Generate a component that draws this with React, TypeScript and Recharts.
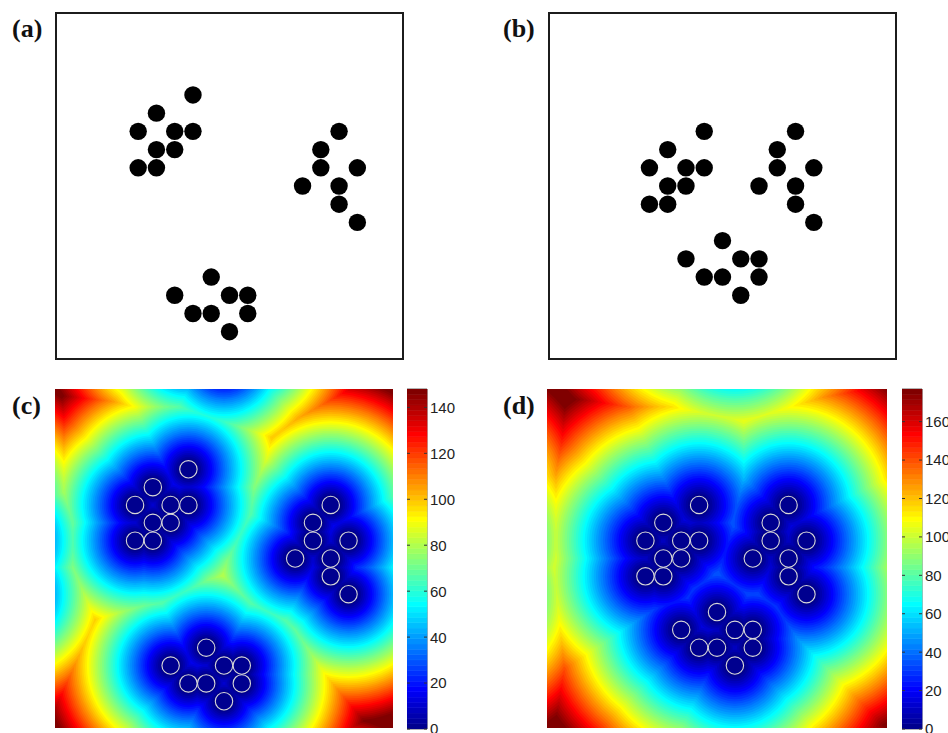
import React from "react";
import {
  Bar,
  BarChart,
  CartesianGrid,
  ReferenceArea,
  Scatter,
  ScatterChart,
  XAxis,
  YAxis,
  ZAxis,
} from "recharts";

// the field is a 19 x 19 grid, every dot sits on a cell centre (cell units, y from the top)
const GRID = 19;
const DOT = 0.5; // dot radius in cells
const CELL_VALUE = 22; // colour-bar units per cell

// (a) three clusters
const clusterA1 = [[7.5, 4.5], [5.5, 5.5], [4.5, 6.5], [6.5, 6.5], [7.5, 6.5], [5.5, 7.5], [6.5, 7.5], [4.5, 8.5], [5.5, 8.5]];
const clusterB1 = [[15.5, 6.5], [14.5, 7.5], [14.5, 8.5], [16.5, 8.5], [13.5, 9.5], [15.5, 9.5], [15.5, 10.5], [16.5, 11.5]];
const clusterC1 = [[8.5, 14.5], [6.5, 15.5], [9.5, 15.5], [10.5, 15.5], [7.5, 16.5], [8.5, 16.5], [10.5, 16.5], [9.5, 17.5]];

// (b) the same clusters pushed closer together
const clusterA2 = [[8.5, 6.5], [6.5, 7.5], [5.5, 8.5], [7.5, 8.5], [8.5, 8.5], [6.5, 9.5], [7.5, 9.5], [5.5, 10.5], [6.5, 10.5]];
const clusterB2 = [[13.5, 6.5], [12.5, 7.5], [12.5, 8.5], [14.5, 8.5], [11.5, 9.5], [13.5, 9.5], [13.5, 10.5], [14.5, 11.5]];
const clusterC2 = [[9.5, 12.5], [7.5, 13.5], [10.5, 13.5], [11.5, 13.5], [8.5, 14.5], [9.5, 14.5], [11.5, 14.5], [10.5, 15.5]];

// colour bar limits and ticks
const maxC = 148;
const maxD = 177;
const ticksC = [0, 20, 40, 60, 80, 100, 120, 140];
const ticksD = [0, 20, 40, 60, 80, 100, 120, 140, 160];

const pointsA = [...clusterA1, ...clusterB1, ...clusterC1];
const pointsB = [...clusterA2, ...clusterB2, ...clusterC2];

// matlab jet(64)
function jetMap(m: number): string[] {
  const n = Math.ceil(m / 4);
  const u: number[] = [];
  for (let i = 1; i <= n; i++) u.push(i / n);
  for (let i = 0; i < n - 1; i++) u.push(1);
  for (let i = n; i >= 1; i--) u.push(i / n);
  const off = Math.ceil(n / 2) - (m % 4 === 1 ? 1 : 0);
  const r = new Array(m).fill(0);
  const g = new Array(m).fill(0);
  const b = new Array(m).fill(0);
  u.forEach((v, j) => {
    const gi = off + j + 1;
    if (gi >= 1 && gi <= m) g[gi - 1] = v;
    if (gi + n >= 1 && gi + n <= m) r[gi + n - 1] = v;
    if (gi - n >= 1 && gi - n <= m) b[gi - n - 1] = v;
  });
  const h = (v: number) => Math.round(v * 255).toString(16).padStart(2, "0");
  return r.map((_, i) => "#" + h(r[i]) + h(g[i]) + h(b[i]));
}
const JET = jetMap(64);

// distance-to-nearest-dot map, periodic edges: one circle per colour level round
// every dot and its shifted copies, biggest first, so the nearest dot wins
function buildField(points: number[][], vmax: number) {
  const step = vmax / JET.length;
  const shifts = [-GRID, 0, GRID];
  const out: { x: number; y: number; r: number; color: string }[] = [];
  for (let k = JET.length - 1; k >= 0; k--) {
    const r = DOT + ((k + 1) * step) / CELL_VALUE;
    for (const [px, py] of points) {
      for (const sx of shifts) {
        for (const sy of shifts) {
          const x = px + sx;
          const y = py + sy;
          const dx = Math.max(-x, 0, x - GRID);
          const dy = Math.max(-y, 0, y - GRID);
          if (dx * dx + dy * dy >= r * r) continue;
          out.push({ x, y, r, color: JET[k] });
        }
      }
    }
  }
  return out;
}

const DOT_PX = 8.7;

function DotPanel({ points, left }: { points: number[][]; left: number }) {
  const data = points.map(([x, y]) => ({ x, y }));
  return (
    <div style={{ position: "absolute", left: left - 2, top: 11 }}>
      <ScatterChart width={351} height={350} margin={{ top: 2, right: 2, bottom: 2, left: 2 }}>
        <XAxis type="number" dataKey="x" domain={[0, GRID]} hide allowDataOverflow />
        <YAxis type="number" dataKey="y" domain={[0, GRID]} reversed hide allowDataOverflow />
        <ReferenceArea x1={0} x2={GRID} y1={0} y2={GRID} fill="none" stroke="#1c1c1c" strokeWidth={2} />
        <Scatter
          data={data}
          isAnimationActive={false}
          shape={(p: any) => <circle cx={p.cx} cy={p.cy} r={DOT_PX} fill="#000" />}
        />
      </ScatterChart>
    </div>
  );
}

function HeatPanel({ points, vmax, left, width }: { points: number[][]; vmax: number; left: number; width: number }) {
  const field = buildField(points, vmax);
  const rings = points.map(([x, y]) => ({ x, y }));
  return (
    <div style={{ position: "absolute", left, top: 389 }}>
      <ScatterChart width={width} height={339} margin={{ top: 0, right: 0, bottom: 0, left: 0 }}>
        <CartesianGrid horizontal={false} vertical={false} fill={JET[JET.length - 1]} />
        <XAxis type="number" dataKey="x" domain={[0, GRID]} hide allowDataOverflow />
        <YAxis type="number" dataKey="y" domain={[0, GRID]} reversed hide allowDataOverflow />
        <ZAxis type="number" dataKey="r" domain={[0, GRID]} range={[0, width]} />
        <Scatter
          data={field}
          isAnimationActive={false}
          shape={(p: any) => <circle cx={p.cx} cy={p.cy} r={p.size} fill={p.payload.color} />}
        />
        <Scatter
          data={rings}
          isAnimationActive={false}
          shape={(p: any) => (
            <circle cx={p.cx} cy={p.cy} r={DOT_PX} fill="none" stroke="#d8d8d8" strokeWidth={1.1} />
          )}
        />
      </ScatterChart>
    </div>
  );
}

const BAR_W = 20;

function ColorBar({ vmax, ticks, left }: { vmax: number; ticks: number[]; left: number }) {
  const step = vmax / JET.length;
  const row: Record<string, any> = { name: "cb" };
  JET.forEach((_, k) => (row["b" + k] = step));
  const tick = (p: any) => (
    <g>
      <line x1={p.x - BAR_W} x2={p.x - BAR_W + 3} y1={p.y} y2={p.y} stroke="#333" />
      <line x1={p.x - 3} x2={p.x} y1={p.y} y2={p.y} stroke="#333" />
      <text
        x={p.x + 3}
        y={p.y}
        dy="0.36em"
        textAnchor="start"
        fontFamily="'Liberation Sans', Arial, sans-serif"
        fontSize={15}
        fill="#222"
      >
        {p.payload.value}
      </text>
    </g>
  );
  return (
    <div style={{ position: "absolute", left, top: 379 }}>
      <BarChart
        width={BAR_W + 50}
        height={360}
        data={[row]}
        margin={{ top: 10, right: 0, bottom: 10, left: 0 }}
        barCategoryGap={0}
        barGap={0}
      >
        <XAxis dataKey="name" hide />
        <YAxis
          orientation="right"
          width={50}
          type="number"
          domain={[0, vmax]}
          ticks={ticks}
          interval={0}
          tickSize={0}
          tickMargin={0}
          axisLine={false}
          tickLine={false}
          tick={tick}
          allowDataOverflow
        />
        {JET.map((c, k) => (
          <Bar key={k} dataKey={"b" + k} stackId="cb" fill={c} stroke={c} strokeWidth={0.6} isAnimationActive={false} />
        ))}
        <ReferenceArea y1={0} y2={vmax} fill="none" stroke="#666" strokeWidth={1} />
      </BarChart>
    </div>
  );
}

const labelStyle: React.CSSProperties = {
  position: "absolute",
  fontFamily: "'Liberation Serif', 'Times New Roman', serif",
  fontWeight: "bold",
  fontSize: 26,
  lineHeight: "26px",
  color: "#111",
};

export default function App() {
  return (
    <div
      style={{
        position: "absolute",
        left: 0,
        top: 0,
        width: 948,
        height: 733,
        overflow: "hidden",
        background: "#fff",
      }}
    >
      <div style={{ ...labelStyle, left: 12, top: 16 }}>(a)</div>
      <div style={{ ...labelStyle, left: 503, top: 16 }}>(b)</div>
      <div style={{ ...labelStyle, left: 12, top: 393 }}>(c)</div>
      <div style={{ ...labelStyle, left: 503, top: 393 }}>(d)</div>

      <DotPanel points={pointsA} left={56} />
      <DotPanel points={pointsB} left={549} />

      <HeatPanel points={pointsA} vmax={maxC} left={55} width={338} />
      <ColorBar vmax={maxC} ticks={ticksC} left={407} />

      <HeatPanel points={pointsB} vmax={maxD} left={547} width={340} />
      <ColorBar vmax={maxD} ticks={ticksD} left={902} />
    </div>
  );
}
